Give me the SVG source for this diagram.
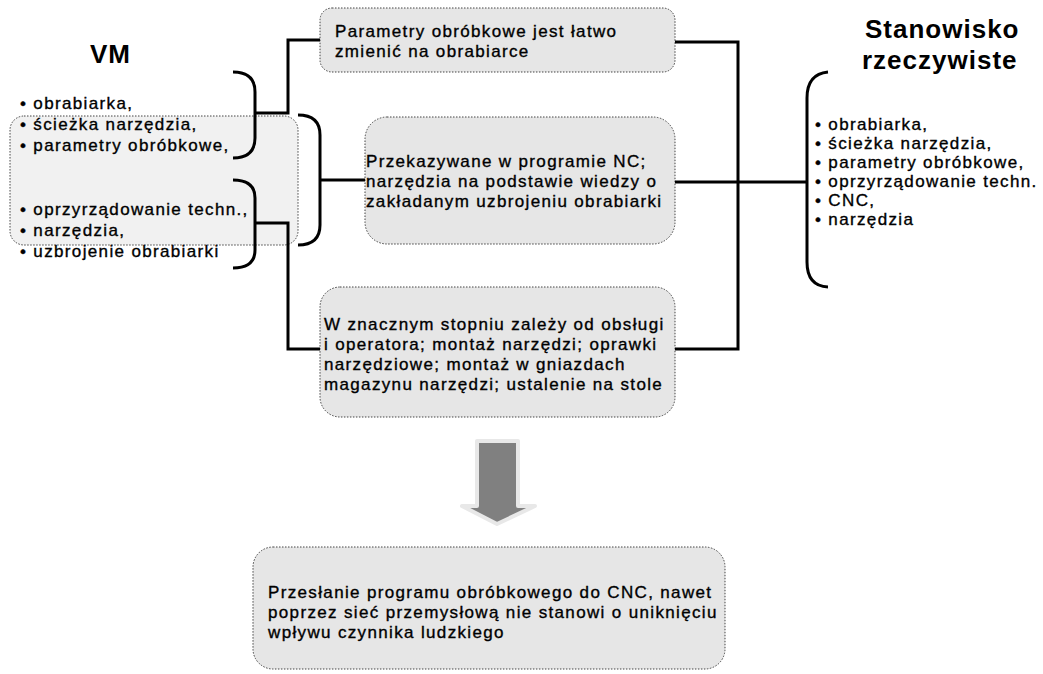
<svg xmlns="http://www.w3.org/2000/svg" width="1043" height="674" viewBox="0 0 1043 674">
<style>
.box{fill:#e6e6e6;stroke:#444;stroke-width:1;stroke-dasharray:1.5 1.5}
.lbox{fill:#f1f1f1;stroke:#444;stroke-width:1;stroke-dasharray:1.5 1.5}
.t{font-family:"Liberation Sans",Arial,sans-serif;font-size:17px;letter-spacing:1.35px;fill:#000;stroke:#000;stroke-width:0.35px}
.h{font-family:"Liberation Sans",Arial,sans-serif;font-size:26px;font-weight:bold;letter-spacing:1px;fill:#000}
.c{fill:none;stroke:#000;stroke-width:3}
</style>
<rect width="1043" height="674" fill="#fff"/>
<g id="vm">
<rect class="lbox" x="10" y="116" width="288" height="129" rx="14"/>
<text class="h" x="90" y="63">VM</text>
<text class="t" x="20" y="109">• obrabiarka,</text>
<text class="t" x="20" y="130">• ścieżka narzędzia,</text>
<text class="t" x="20" y="151">• parametry obróbkowe,</text>
<text class="t" x="20" y="215">• oprzyrządowanie techn.,</text>
<text class="t" x="20" y="236">• narzędzia,</text>
<text class="t" x="20" y="257">• uzbrojenie obrabiarki</text>
</g>
<g id="stanowisko">
<text class="h" x="865" y="38">Stanowisko</text>
<text class="h" x="862" y="69">rzeczywiste</text>
<text class="t" x="815" y="130">• obrabiarka,</text>
<text class="t" x="815" y="149">• ścieżka narzędzia,</text>
<text class="t" x="815" y="168">• parametry obróbkowe,</text>
<text class="t" x="815" y="187">• oprzyrządowanie techn.</text>
<text class="t" x="815" y="206">• CNC,</text>
<text class="t" x="815" y="225">• narzędzia</text>
</g>
<g id="n1">
<rect class="box" x="320" y="8" width="355" height="64" rx="12"/>
<text class="t" x="335" y="37">Parametry obróbkowe jest łatwo</text>
<text class="t" x="335" y="57">zmienić na obrabiarce</text>
</g>
<g id="n2">
<rect class="box" x="365" y="117" width="310" height="127" rx="22"/>
<text class="t" x="366" y="167">Przekazywane w programie NC;</text>
<text class="t" x="366" y="187">narzędzia na podstawie wiedzy o</text>
<text class="t" x="366" y="207">zakładanym uzbrojeniu obrabiarki</text>
</g>
<g id="n3">
<rect class="box" x="320" y="287" width="355" height="130" rx="20"/>
<text class="t" x="324" y="330">W znacznym stopniu zależy od obsługi</text>
<text class="t" x="324" y="350">i operatora; montaż narzędzi; oprawki</text>
<text class="t" x="324" y="370">narzędziowe; montaż w gniazdach</text>
<text class="t" x="324" y="390">magazynu narzędzi; ustalenie na stole</text>
</g>
<g id="n4">
<rect class="box" x="253" y="547" width="472" height="122" rx="20"/>
<text class="t" x="268" y="598">Przesłanie programu obróbkowego do CNC, nawet</text>
<text class="t" x="268" y="618">poprzez sieć przemysłową nie stanowi o uniknięciu</text>
<text class="t" x="268" y="638">wpływu czynnika ludzkiego</text>
</g>
<g id="arrow">
<path d="M477,441 L518,441 L518,506 L535,506 L497,524 L462,506 L477,506 Z" fill="#808080" stroke="#e8e8e8" stroke-width="4" stroke-linejoin="round"/>
</g>
<g id="connectors">
<path class="c" d="M233,72 Q255,72 255,92 L255,138 Q255,158 233,158"/>
<path class="c" d="M233,180 Q255,180 255,198 L255,250 Q255,268 233,268"/>
<path class="c" d="M298,115 Q320,115 320,135 L320,225 Q320,245 298,245"/>
<path class="c" d="M828,72 Q807,74 807,98 L807,262 Q807,286 828,287"/>
<path class="c" d="M255,113 L288,113 L288,40 L320,40"/>
<path class="c" d="M320,180 L365,180"/>
<path class="c" d="M255,223 L288,223 L288,349 L320,349"/>
<path class="c" d="M675,42 L738,42 L738,349 L675,349"/>
<path class="c" d="M675,182 L807,182"/>
</g>
</svg>
